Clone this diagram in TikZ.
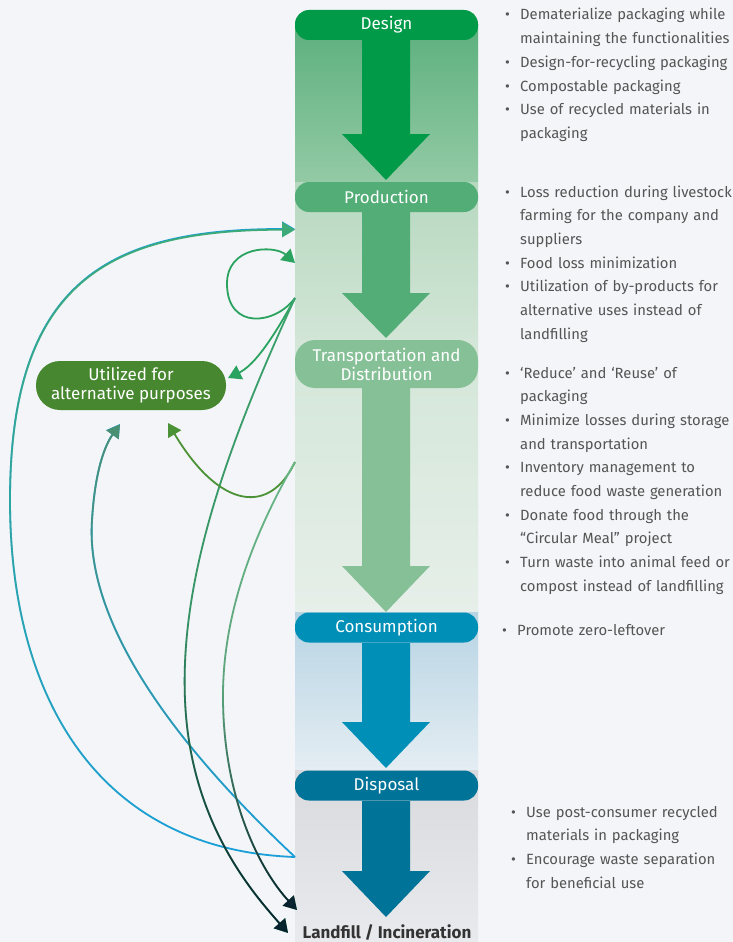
\documentclass[tikz,border=0pt]{standalone}
\usepackage{fontspec}
\setmainfont{Fira Sans}
\usetikzlibrary{arrows.meta,fadings}
\definecolor{bgpage}{HTML}{F3F5F8}
\definecolor{textgray}{HTML}{555555}
\definecolor{cdesign}{HTML}{009A48}
\definecolor{cprod}{HTML}{52AD77}
\definecolor{ctrans}{HTML}{86C097}
\definecolor{ccons}{HTML}{008FB7}
\definecolor{cdisp}{HTML}{007398}
\definecolor{cutilbox}{HTML}{46872F}
\definecolor{cblue}{HTML}{1A9FD9}
\definecolor{cgreenA}{HTML}{3DAA78}
\definecolor{cgreenB}{HTML}{4A8F72}
\definecolor{cloop}{HTML}{2BA360}
\definecolor{cgreenC}{HTML}{3DA36D}
\definecolor{cdark}{HTML}{06202E}
\definecolor{cutil}{HTML}{4B9236}
\definecolor{clight}{HTML}{6AB788}
\definecolor{landgray}{HTML}{333333}
\tikzfading[name=fadeup, top color=transparent!0, bottom color=transparent!100]
\tikzfading[name=fadedown, top color=transparent!100, bottom color=transparent!0, middle color=transparent!88]
\newcommand{\bul}[1]{\hangindent=15pt\hangafter=1\noindent\makebox[15pt][l]{\textbullet}#1\par}
\begin{document}
\begin{tikzpicture}[x=1pt, y=-1pt, >={Triangle[length=13pt, width=15pt]},
	stage/.style={rounded corners=14pt, minimum width=183pt, minimum height=30pt, inner sep=0pt, text=white, align=center, font=\fontsize{17}{19}\selectfont},
	flow/.style={->, line width=1.8pt},
	bullets/.style={anchor=base west, inner sep=0pt, text width=240pt, align=left, text=textgray, font=\fontsize{14.8}{23.7}\selectfont}]
			      \useasboundingbox (0,0) rectangle (733,942);
			      \fill[bgpage] (0,0) rectangle (733,942);
			      \shade[top color={rgb,255:red,93;green,176;blue,126}, bottom color={rgb,255:red,147;green,202;blue,165}] (295,25) rectangle (478,182);
			      \shade[top color={rgb,255:red,182;green,216;blue,191}, bottom color={rgb,255:red,210;green,229;blue,214}] (295,182) rectangle (478,340);
			      \shade[top color={rgb,255:red,211;green,230;blue,216}, bottom color={rgb,255:red,230;green,239;blue,233}] (295,340) rectangle (478,612);
			      \shade[top color={rgb,255:red,183;green,212;blue,227}, bottom color={rgb,255:red,228;green,237;blue,243}] (295,612) rectangle (478,770);
			      \shade[top color={rgb,255:red,217;green,218;blue,221}, bottom color={rgb,255:red,233;green,234;blue,237}] (295,770) rectangle (478,942);
			      \foreach \ya/\yb/\yc/\col in {40/134/180/cdesign, 212/293/338/cprod, 388/566/612/ctrans, 643/722/768/ccons, 801/871/917/cdisp}
			      	\fill[\col] (362,\ya) -- (410,\ya) -- (410,\yb) -- (430,\yb) -- (386,\yc) -- (342,\yb) -- (362,\yb) -- cycle;
			      \node[stage, fill=cdesign] (design) at (386.5,25) {Design};
			      \node[stage, fill=cprod] (production) at (386.5,197) {Production};
			      \node[stage, fill=ctrans, minimum height=48pt, rounded corners=20pt] (transport) at (386.5,364) {Transportation and\\Distribution};
			      \node[stage, fill=ccons] (consumption) at (386.5,627.5) {Consumption};
			      \node[stage, fill=cdisp] (disposal) at (386.5,785.5) {Disposal};
			      \node[font=\fontsize{17}{19}\selectfont\bfseries, text=landgray, inner sep=0pt, anchor=base] (landfill) at (387,938) {Landfill / Incineration};
			      \node[stage, fill=cutilbox, minimum width=190pt, minimum height=49pt, rounded corners=24pt] (util) at (131,385.5) {Utilized for\\alternative purposes};
			      \coordinate (prodin) at (295,229);
			      \coordinate (loopin) at (295,263);
			      \coordinate (prodout) at (295,298);
			      \coordinate (transout) at (295,462);
			      \coordinate (dispout) at (295,857);
			      \coordinate (utilright) at (228,378);
			      \coordinate (utilbl) at (120,424);
			      \coordinate (utilbr) at (168,423);
			      \coordinate (landa) at (297,910);
			      \coordinate (landb) at (288,933);
			      \draw[flow, cblue, postaction={draw=cgreenA, path fading=fadeup}] (dispout) .. controls (100,850) and (10,700) .. (10,500) .. controls (10,280) and (110,229) .. (prodin);
			      \draw[flow, cblue, postaction={draw=cgreenB, path fading=fadeup}] (dispout) .. controls (170,740) and (85,620) .. (92,520) .. controls (95,470) and (105,445) .. (utilbl);
			      \draw[flow, cloop] (prodout) .. controls (275,325) and (228,330) .. (227,285) .. controls (226,245) and (275,245) .. (loopin);
			      \draw[flow, cloop] (prodout) .. controls (275,335) and (255,365) .. (utilright);
			      \draw[flow, cgreenC, postaction={draw=cdark, path fading=fadedown}] (prodout) .. controls (225,450) and (180,580) .. (185,700) .. controls (190,820) and (250,890) .. (landb);
			      \draw[flow, cutil] (transout) .. controls (270,515) and (220,510) .. (utilbr);
			      \draw[flow, clight, postaction={draw=cdark, path fading=fadedown}] (transout) .. controls (250,540) and (222,620) .. (223,700) .. controls (224,800) and (260,870) .. (landa);
			      \node[bullets] (designtext) at (505,20) {\bul{Dematerialize packaging while\newline maintaining the functionalities}\bul{Design-for-recycling packaging}\bul{Compostable packaging}\bul{Use of recycled materials in\newline packaging}};
			      \node[bullets] (prodtext) at (505,197) {\bul{Loss reduction during livestock\newline farming for the company and\newline suppliers}\bul{Food loss minimization}\bul{Utilization of by-products for\newline alternative uses instead of\newline landfilling}};
			      \node[bullets] (transtext) at (505,378) {\bul{‘Reduce’ and ‘Reuse’ of\newline packaging}\bul{Minimize losses during storage\newline and transportation}\bul{Inventory management to\newline reduce food waste generation}\bul{Donate food through the\newline “Circular Meal” project}\bul{Turn waste into animal feed or\newline compost instead of landfilling}};
			      \node[bullets] (constext) at (502,635) {\bul{Promote zero-leftover}};
			      \node[bullets] (disptext) at (511,817) {\bul{Use post-consumer recycled\newline materials in packaging}\bul{Encourage waste separation\newline for beneficial use}};
		      \end{tikzpicture}
\end{document}
